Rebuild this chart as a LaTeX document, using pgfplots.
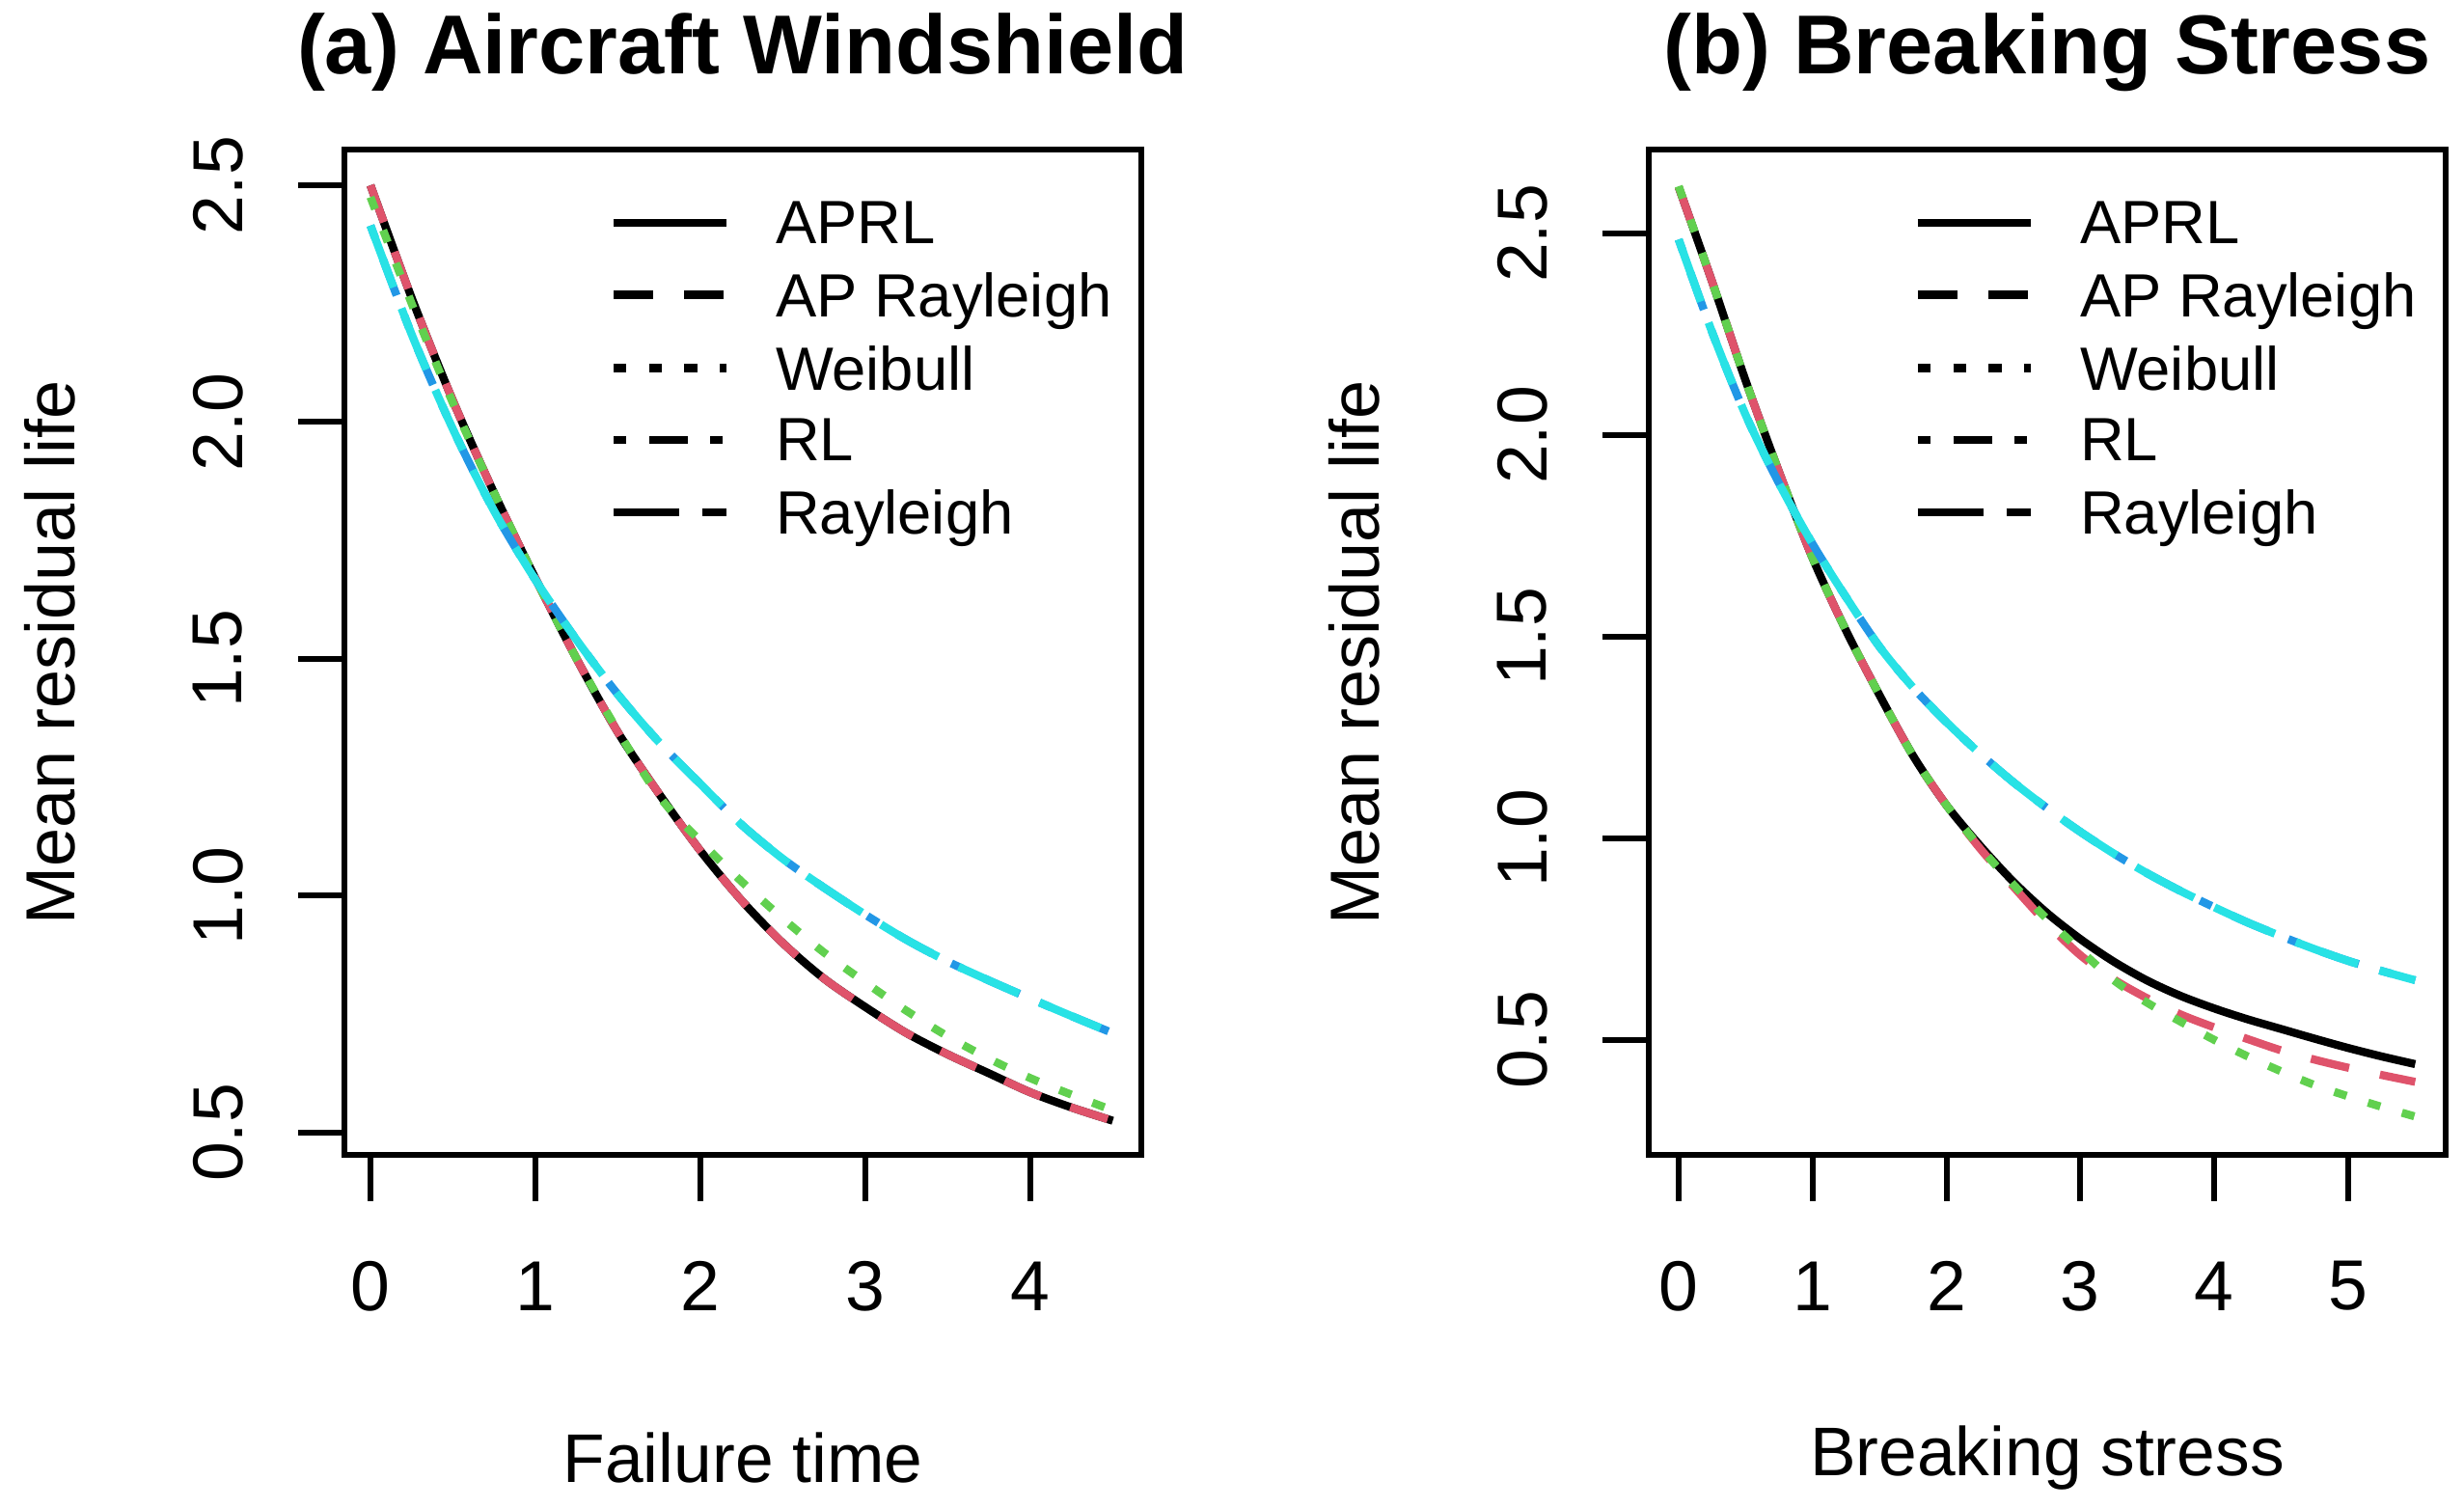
\documentclass[border=0pt]{standalone}
\usepackage{fontspec}
\setmainfont{Liberation Sans}
\usepackage{pgfplots}
\usepackage{pgfplotstable}
\pgfplotsset{compat=1.18}
\definecolor{rred}{HTML}{DF536B}
\definecolor{rgreen}{HTML}{61D04F}
\definecolor{rblue}{HTML}{2297E6}
\definecolor{rcyan}{HTML}{28E2E5}

% Panel (a)
\pgfplotstableread{
x y
0 2.500
0.25 2.262
0.5 2.045
0.75 1.850
1.0 1.670
1.25 1.500
1.5 1.345
1.75 1.215
2.0 1.095
2.25 0.990
2.5 0.900
2.75 0.825
3.0 0.765
3.25 0.710
3.5 0.665
3.75 0.625
4.0 0.585
4.25 0.553
4.5 0.525
}\Aaprl
\pgfplotstableread{
x y
0 2.475
0.25 2.250
0.5 2.040
0.75 1.850
1.0 1.670
1.25 1.500
1.5 1.348
1.75 1.210
2.0 1.115
2.25 1.030
2.5 0.952
2.75 0.880
3.0 0.817
3.25 0.757
3.5 0.703
3.75 0.656
4.0 0.615
4.25 0.580
4.5 0.547
}\Aweib
\pgfplotstableread{
x y
0 2.415
0.25 2.185
0.5 1.985
0.75 1.812
1.0 1.667
1.25 1.540
1.5 1.425
1.75 1.324
2.0 1.236
2.25 1.150
2.5 1.078
2.75 1.017
3.0 0.960
3.25 0.907
3.5 0.861
3.75 0.821
4.0 0.783
4.25 0.746
4.5 0.710
}\Aray

% Panel (b)
\pgfplotstableread{
x y
0 2.615
0.25 2.380
0.5 2.135
0.75 1.908
1.0 1.695
1.25 1.515
1.5 1.355
1.75 1.205
2.0 1.082
2.25 0.982
2.5 0.892
2.75 0.815
3.0 0.750
3.25 0.694
3.5 0.647
3.75 0.609
4.0 0.578
4.25 0.551
4.5 0.527
4.75 0.503
5.0 0.480
5.25 0.459
5.5 0.440
}\Baprl
\pgfplotstableread{
x y
0 2.615
0.25 2.380
0.5 2.135
0.75 1.908
1.0 1.695
1.25 1.515
1.5 1.355
1.75 1.205
2.0 1.082
2.25 0.975
2.5 0.880
2.75 0.789
3.0 0.710
3.25 0.650
3.5 0.603
3.75 0.563
4.0 0.531
4.25 0.502
4.5 0.474
4.75 0.451
5.0 0.431
5.25 0.413
5.5 0.396
}\Bapray
\pgfplotstableread{
x y
0 2.617
0.25 2.380
0.5 2.135
0.75 1.908
1.0 1.695
1.25 1.515
1.5 1.355
1.75 1.205
2.0 1.082
2.25 0.978
2.5 0.885
2.75 0.800
3.0 0.722
3.25 0.648
3.5 0.592
3.75 0.545
4.0 0.500
4.25 0.459
4.5 0.422
4.75 0.388
5.0 0.360
5.25 0.334
5.5 0.310
}\Bweib
\pgfplotstableread{
x y
0 2.485
0.25 2.255
0.5 2.050
0.75 1.880
1.0 1.730
1.25 1.598
1.5 1.475
1.75 1.374
2.0 1.288
2.25 1.210
2.5 1.139
2.75 1.075
3.0 1.016
3.25 0.962
3.5 0.913
3.75 0.869
4.0 0.829
4.25 0.791
4.5 0.757
4.75 0.725
5.0 0.696
5.25 0.671
5.5 0.648
}\Bray

\pgfplotsset{
  rstyle/.style={
    scale only axis, width=123.9pt, height=156.3pt,
    axis line style={line width=0.9pt},
    every tick/.style={black, line width=0.9pt},
    tick align=outside, major tick length=7.2pt,
    tick pos=left,
    /pgf/number format/assume math mode=true,
    ticklabel style={font=\fontsize{11}{13}\selectfont},
    xticklabel style={anchor=center},
    yticklabel style={rotate=90, anchor=center},
    xticklabel shift=13.2pt,
    yticklabel shift=12.45pt,
    every axis title/.style={at={(axis description cs:0.5,1.097)}, anchor=center,
      font=\fontsize{13}{15}\selectfont\bfseries},
    every axis x label/.style={at={(axis description cs:0.5,-0.301)}, anchor=center,
      font=\fontsize{10.7}{13}\selectfont},
    every axis y label/.style={at={(axis description cs:-0.369,0.5)}, anchor=center, rotate=90,
      font=\fontsize{10.8}{13}\selectfont},
    every axis plot/.append style={line width=1.25pt, smooth, no markers},
    legend cell align=left,
    legend image code/.code={\draw[#1] (0pt,0pt) -- (17.5pt,0pt);},
    legend image post style={black},
    legend style={at={(axis description cs:0.331,0.9495)}, anchor=north west,
      draw=none, fill=none, inner sep=0pt, inner xsep=0pt, inner ysep=0pt,
      font=\fontsize{9.5}{11}\selectfont,
      nodes={inner sep=0pt, text depth=0pt},
      column sep=7.1pt, row sep=4.5pt},
  },
  sdash/.style={rred, dash pattern=on 6.1pt off 4.9pt},
  sdot/.style={rgreen, dash pattern=on 2pt off 3.5pt},
  sdotdash/.style={rblue, dash pattern=on 2pt off 3.5pt on 6.1pt off 3.4pt},
  slong/.style={rcyan, dash pattern=on 10.25pt off 3.5pt},
}

\begin{document}
\begin{tikzpicture}
\path[use as bounding box] (0,0) rectangle (383.1pt,234.45pt);
\begin{axis}[rstyle, at={(53.55pt,54.9pt)}, anchor=south west,
  xmin=-0.158, xmax=4.673, ymin=0.453, ymax=2.5755,
  xtick={0,1,2,3,4}, ytick={0.5,1,1.5,2,2.5},
  yticklabels={0.5,1.0,1.5,2.0,2.5},
  title={(a) Aircraft Windshield}, xlabel={Failure time}, ylabel={Mean residual life}]
\addplot[black, solid] table {\Aaprl}; \addlegendentry{APRL}
\addplot[sdash] table {\Aaprl}; \addlegendentry{AP Rayleigh}
\addplot[sdot] table {\Aweib}; \addlegendentry{Weibull}
\addplot[sdotdash] table {\Aray}; \addlegendentry{RL}
\addplot[slong] table {\Aray}; \addlegendentry{Rayleigh}
\end{axis}
\begin{axis}[rstyle, at={(256.35pt,54.9pt)}, anchor=south west,
  xmin=-0.223, xmax=5.728, ymin=0.215, ymax=2.708,
  xtick={0,1,2,3,4,5}, ytick={0.5,1,1.5,2,2.5},
  yticklabels={0.5,1.0,1.5,2.0,2.5},
  title={(b) Breaking Stress}, xlabel={Breaking stress}, ylabel={Mean residual life}]
\addplot[black, solid] table {\Baprl}; \addlegendentry{APRL}
\addplot[sdash] table {\Bapray}; \addlegendentry{AP Rayleigh}
\addplot[sdot] table {\Bweib}; \addlegendentry{Weibull}
\addplot[sdotdash] table {\Bray}; \addlegendentry{RL}
\addplot[slong] table {\Bray}; \addlegendentry{Rayleigh}
\end{axis}
\end{tikzpicture}
\end{document}
